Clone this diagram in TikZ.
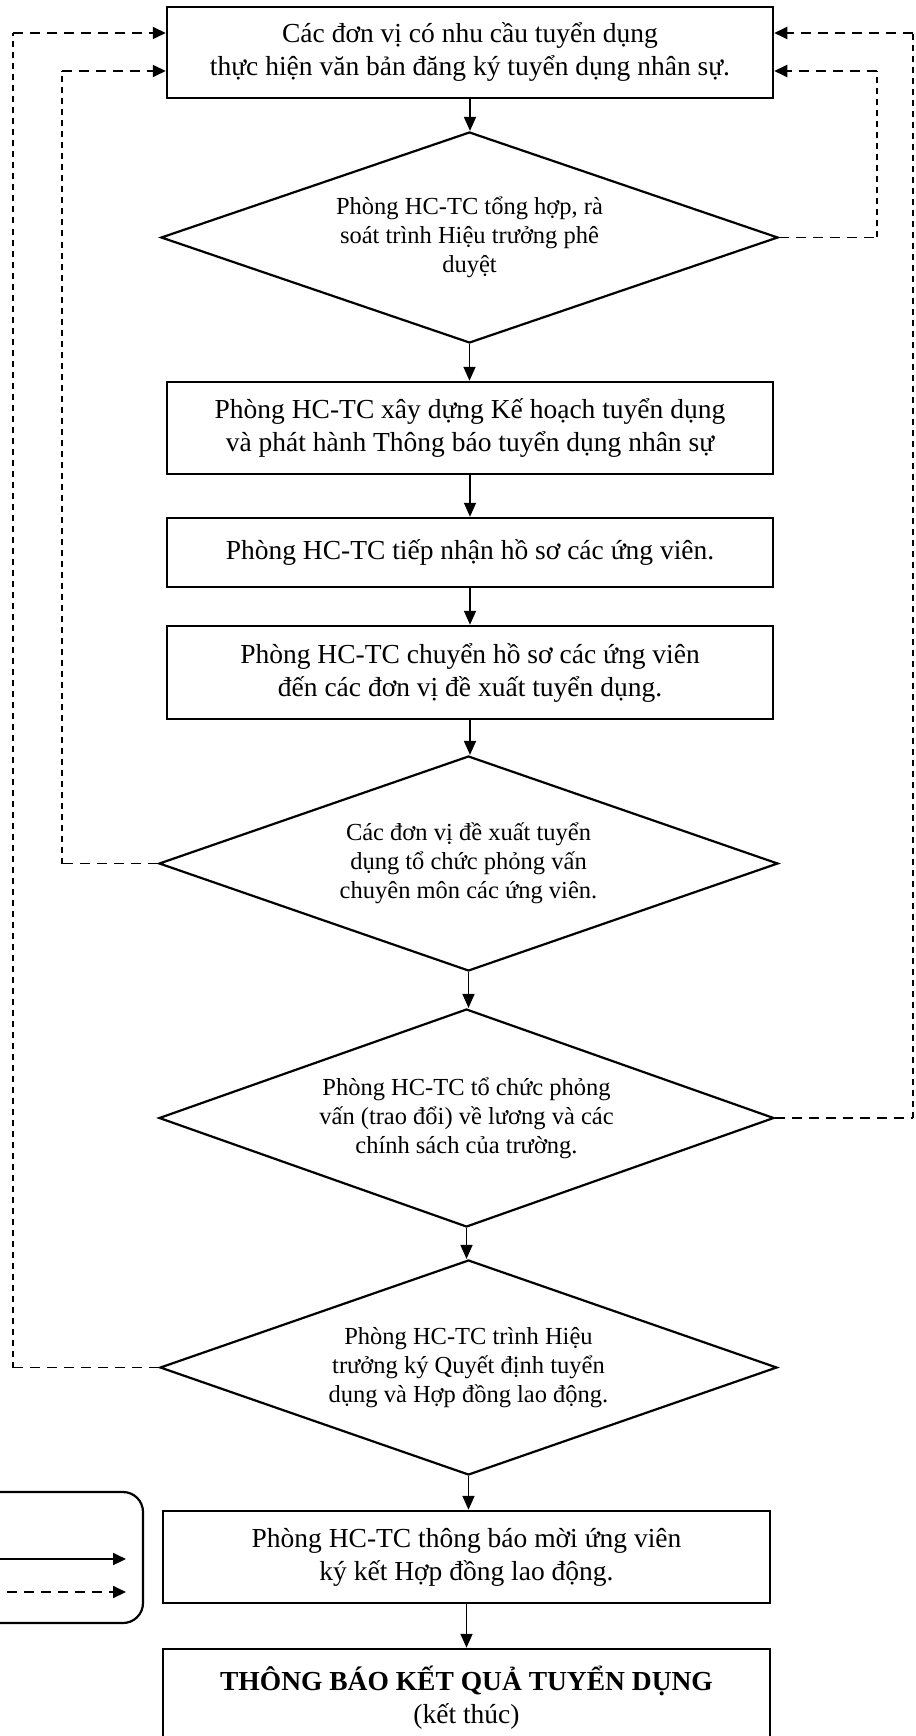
\documentclass[tikz,border=0pt]{standalone}
\usepackage{fontspec}
\setmainfont{Liberation Serif}
\usetikzlibrary{shapes.geometric,arrows.meta,calc}
\begin{document}
\begin{tikzpicture}[x=1pt,y=-1pt,
  box/.style={draw, line width=2.5pt, minimum width=606pt, inner sep=0pt, align=center, font=\fontsize{27.5}{33}\selectfont},
  dia/.style={draw, diamond, line width=2.2pt, minimum width=617pt, inner sep=0pt, aspect=2.9, align=center, font=\fontsize{24.5}{29}\selectfont},
  flow/.style={line width=1.7pt, -{Triangle[length=14pt,width=12pt]}},
  hdash/.style={line width=1.9pt, dash pattern=on 10pt off 7pt},
  vdash/.style={line width=1.9pt, dash pattern=on 6pt off 5pt},
  tip/.style={-{Triangle[length=13pt,width=12pt]}},
]
\useasboundingbox (0,0) rectangle (915,1736);
\clip (0,0) rectangle (915,1736);
\fill[white] (0,0) rectangle (915,1736);

% main flow
\node[box, minimum height=91pt] (b1) at (470,52.5) {Các đơn vị có nhu cầu tuyển dụng\\thực hiện văn bản đăng ký tuyển dụng nhân sự.};
\node[dia, minimum height=211pt] (d1) at (469.5,237.5) {Phòng HC-TC tổng hợp, rà\\soát trình Hiệu trưởng phê\\duyệt};
\node[box, minimum height=92pt] (b2) at (470,428) {Phòng HC-TC xây dựng Kế hoạch tuyển dụng\\và phát hành Thông báo tuyển dụng nhân sự};
\node[box, minimum height=69pt] (b3) at (470,552.5) {Phòng HC-TC tiếp nhận hồ sơ các ứng viên.};
\node[box, minimum height=93pt] (b4) at (470,672.5) {Phòng HC-TC chuyển hồ sơ các ứng viên\\đến các đơn vị đề xuất tuyển dụng.};
\node[dia, minimum width=619pt, minimum height=215pt] (d2) at (468.5,863.5) {Các đơn vị đề xuất tuyển\\dụng tổ chức phỏng vấn\\chuyên môn các ứng viên.};
\node[dia, minimum width=615pt, minimum height=218pt] (d3) at (466.5,1118) {Phòng HC-TC tổ chức phỏng\\vấn (trao đổi) về lương và các\\chính sách của trường.};
\node[dia, minimum width=617pt, minimum height=215pt] (d4) at (468.5,1367.5) {Phòng HC-TC trình Hiệu\\trưởng ký Quyết định tuyển\\dụng và Hợp đồng lao động.};
\node[box, minimum width=607pt, minimum height=92pt] (b5) at (466.5,1557) {Phòng HC-TC thông báo mời ứng viên\\ký kết Hợp đồng lao động.};
\node[box, minimum width=607pt, minimum height=97pt] (b6) at (466.5,1697.5) {\textbf{THÔNG BÁO KẾT QUẢ TUYỂN DỤNG}\\(kết thúc)};

\draw[flow] (b1.south) -- (b1.south |- d1.north);
\draw[flow] (d1.south) -- (d1.south |- b2.north);
\draw[flow] (b2.south) -- (b3.north);
\draw[flow] (b3.south) -- (b4.north);
\draw[flow] (b4.south) -- (b4.south |- d2.north);
\draw[flow] (d2.south) -- (d2.south |- d3.north);
\draw[flow] (d3.south) -- (d3.south |- d4.north);
\draw[flow] (d4.south) -- (d4.south |- b5.north);
\draw[flow] (b5.south) -- (b6.north);

% feedback loops
\coordinate (riT) at (877,71);
\coordinate (riB) at (877,237.5);
\draw[hdash] (d1.east) -- (riB);
\draw[vdash] (riB) -- (riT);
\draw[hdash,tip] (riT) -- (riT -| b1.east);

\coordinate (roT) at (913,33);
\coordinate (roB) at (913,1118);
\draw[hdash] (d3.east) -- (roB);
\draw[vdash] (roB) -- (roT);
\draw[hdash,tip] (roT) -- (roT -| b1.east);

\coordinate (liT) at (62,71);
\coordinate (liB) at (62,863.5);
\draw[hdash] (d2.west) -- (liB);
\draw[vdash] (liB) -- (liT);
\draw[hdash,tip] (liT) -- (liT -| b1.west);

\coordinate (loT) at (13,33);
\coordinate (loB) at (13,1367.5);
\draw[hdash] (d4.west) -- (loB);
\draw[vdash] (loB) -- (loT);
\draw[hdash,tip] (loT) -- (loT -| b1.west);

% legend
\node[draw, line width=2.2pt, rounded corners=20pt, minimum width=200pt, minimum height=131pt] (leg) at (43,1557.5) {};
\coordinate (lsA) at (-10,1559);
\coordinate (lsB) at (126,1559);
\coordinate (ldA) at (-10,1592);
\coordinate (ldB) at (126,1592);
\draw[line width=2pt, -{Triangle[length=13pt,width=12pt]}] (lsA) -- (lsB);
\draw[hdash, tip] (ldA) -- (ldB);
\end{tikzpicture}
\end{document}
